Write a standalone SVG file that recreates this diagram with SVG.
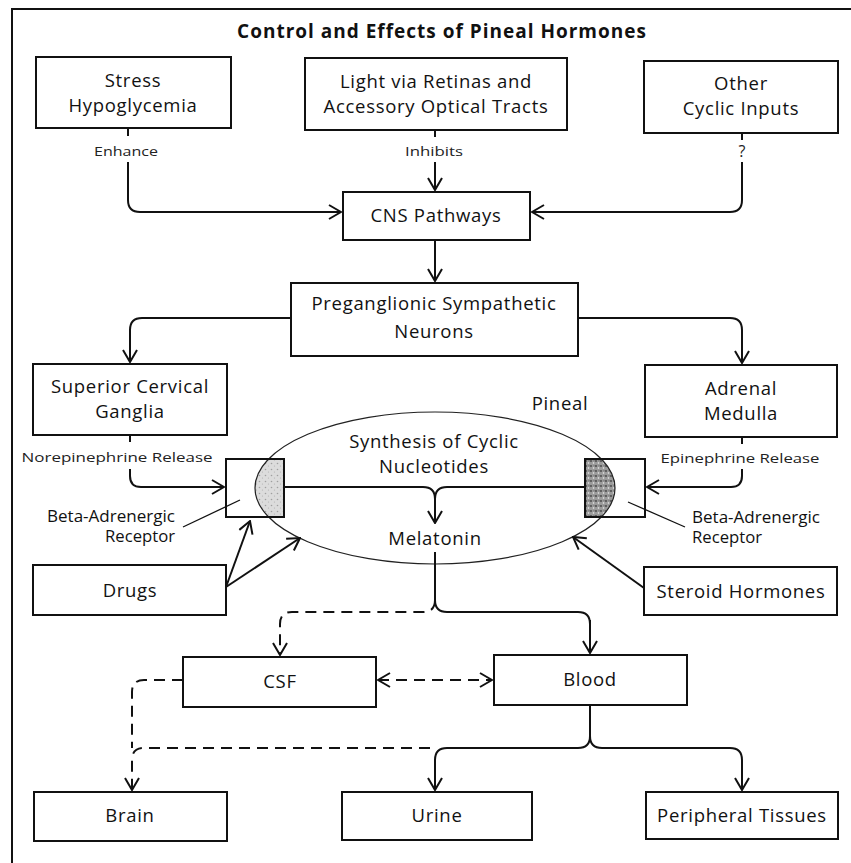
<svg xmlns="http://www.w3.org/2000/svg" width="851" height="863" viewBox="0 0 851 863">
<defs>
<style>
.box{fill:none;stroke:#111;stroke-width:2}
.t{font-family:"Open Sans","Liberation Sans",sans-serif;font-size:18.5px;letter-spacing:0.7px;fill:#111;text-anchor:middle}
.s{font-family:"Open Sans","Liberation Sans",sans-serif;font-size:13.5px;fill:#222;text-anchor:middle}
.m{font-family:"Open Sans","Liberation Sans",sans-serif;font-size:15.5px;fill:#111}
.c{fill:none;stroke:#111;stroke-width:2}
.d{fill:none;stroke:#111;stroke-width:2;stroke-dasharray:11 7}
.a{marker-end:url(#ah)}
</style>
<marker id="ah" viewBox="0 0 14 16" refX="13" refY="8" markerWidth="14" markerHeight="16" markerUnits="userSpaceOnUse" orient="auto-start-reverse">
<path d="M1,1 L13,8 L1,15" fill="none" stroke="#111" stroke-width="2"/>
</marker>
<pattern id="stipL" width="6" height="6" patternUnits="userSpaceOnUse">
<rect width="6" height="6" fill="#dcdcdc"/>
<circle cx="1.5" cy="1.5" r="0.8" fill="#a0a0a0"/>
<circle cx="4.5" cy="4" r="0.6" fill="#b0b0b0"/>
</pattern>
<pattern id="stipR" width="5" height="5" patternUnits="userSpaceOnUse">
<rect width="5" height="5" fill="#9a9a9a"/>
<circle cx="1" cy="1" r="0.9" fill="#444"/>
<circle cx="3.5" cy="3" r="0.8" fill="#eee"/>
<circle cx="4" cy="0.8" r="0.5" fill="#555"/>
</pattern>
<clipPath id="ell"><ellipse cx="435" cy="488" rx="180" ry="76"/></clipPath>
</defs>
<rect width="851" height="863" fill="#fff"/>
<g id="frame" fill="none" stroke="#111" stroke-width="2">
<path d="M12,863 V9 H851"/>
</g>
<text id="title" x="442" y="38" class="t" style="font-weight:bold;font-size:19px;letter-spacing:1px">Control and Effects of Pineal Hormones</text>

<g id="stress"><rect class="box" x="36" y="57" width="195" height="71"/><text class="t" x="133" y="87">Stress</text><text class="t" x="133" y="112">Hypoglycemia</text></g>
<g id="light"><rect class="box" x="305" y="58" width="262" height="72"/><text class="t" x="436" y="88">Light via Retinas and</text><text class="t" x="436" y="113">Accessory Optical Tracts</text></g>
<g id="other"><rect class="box" x="644" y="61" width="194" height="72"/><text class="t" x="741" y="90">Other</text><text class="t" x="741" y="115">Cyclic Inputs</text></g>
<g id="cns"><rect class="box" x="343" y="192" width="187" height="48"/><text class="t" x="436" y="222">CNS Pathways</text></g>
<g id="pregang"><rect class="box" x="291" y="283" width="287" height="73"/><text class="t" x="434" y="310">Preganglionic Sympathetic</text><text class="t" x="434" y="338">Neurons</text></g>
<g id="scg"><rect class="box" x="33" y="364" width="194" height="71"/><text class="t" x="130" y="393">Superior Cervical</text><text class="t" x="130" y="418">Ganglia</text></g>
<g id="adrenal"><rect class="box" x="645" y="365" width="192" height="72"/><text class="t" x="741" y="395">Adrenal</text><text class="t" x="741" y="420">Medulla</text></g>

<g id="pineal">
<rect x="226" y="459" width="58" height="58" fill="url(#stipL)" clip-path="url(#ell)"/>
<rect x="585" y="459" width="60" height="58" fill="url(#stipR)" clip-path="url(#ell)"/>
<ellipse cx="435" cy="488" rx="180" ry="76" fill="none" stroke="#222" stroke-width="1.2"/>
<text class="t" x="560" y="410">Pineal</text>
<text class="t" x="434" y="448">Synthesis of Cyclic</text>
<text class="t" x="434" y="473">Nucleotides</text>
<text class="t" x="435" y="545">Melatonin</text>
</g>
<g id="receptorL"><rect class="box" x="226" y="459" width="58" height="58"/></g>
<g id="receptorR"><rect class="box" x="585" y="459" width="60" height="58"/></g>
<g id="drugs"><rect class="box" x="33" y="565" width="193" height="50"/><text class="t" x="130" y="597">Drugs</text></g>
<g id="steroid"><rect class="box" x="644" y="567" width="193" height="48"/><text class="t" x="741" y="598">Steroid Hormones</text></g>
<g id="csf"><rect class="box" x="183" y="657" width="193" height="50"/><text class="t" x="280" y="688">CSF</text></g>
<g id="blood"><rect class="box" x="494" y="655" width="193" height="50"/><text class="t" x="590" y="686">Blood</text></g>
<g id="brain"><rect class="box" x="34" y="792" width="193" height="49"/><text class="t" x="130" y="822">Brain</text></g>
<g id="urine"><rect class="box" x="342" y="792" width="190" height="48"/><text class="t" x="437" y="822">Urine</text></g>
<g id="peripheral"><rect class="box" x="646" y="792" width="192" height="47"/><text class="t" x="742" y="822">Peripheral Tissues</text></g>

<g id="labels">
<text class="s" x="126" y="156" textLength="64" lengthAdjust="spacingAndGlyphs">Enhance</text>
<text class="s" x="434" y="156" textLength="58" lengthAdjust="spacingAndGlyphs">Inhibits</text>
<text class="s" x="742" y="157" style="font-size:16px">?</text>
<text class="s" x="117" y="462" textLength="191" lengthAdjust="spacingAndGlyphs">Norepinephrine Release</text>
<text class="s" x="740" y="463" textLength="159" lengthAdjust="spacingAndGlyphs">Epinephrine Release</text>
<text class="m" x="175" y="522" text-anchor="end" textLength="128" lengthAdjust="spacingAndGlyphs">Beta-Adrenergic</text>
<text class="m" x="175" y="542" text-anchor="end" textLength="70" lengthAdjust="spacingAndGlyphs">Receptor</text>
<text class="m" x="692" y="523" textLength="128" lengthAdjust="spacingAndGlyphs">Beta-Adrenergic</text>
<text class="m" x="692" y="543" textLength="70" lengthAdjust="spacingAndGlyphs">Receptor</text>
</g>

<g id="connectors">
<path class="c" d="M128,128 V136"/>
<path class="c a" d="M128,162 V200 Q128,212 140,212 H341"/>
<path class="c" d="M435,130 V137"/>
<path class="c a" d="M435,162 V190"/>
<path class="c" d="M742,133 V140"/>
<path class="c a" d="M742,162 V200 Q742,212 730,212 H532"/>
<path class="c a" d="M435,240 V281"/>
<path class="c a" d="M291,318 H142 Q130,318 130,330 V362"/>
<path class="c a" d="M578,318 H730 Q742,318 742,330 V363"/>
<path class="c" d="M130,435 V442"/>
<path class="c a" d="M130,469 V476 Q130,487 141,487 H224"/>
<path class="c" d="M742,437 V444"/>
<path class="c a" d="M742,469 V476 Q742,487 731,487 H647"/>
<path class="c a" d="M284,487 H423 Q435,487 435,499 V523"/>
<path class="c" d="M585,487 H447 Q435,487 435,499"/>
<path class="c" d="M435,552 V600 Q435,612 447,612 H578 Q590,612 590,624"/>
<path class="c a" d="M590,620 V653"/>
<path class="d a" d="M435,600 Q435,612 423,612 H292 Q280,612 280,624 V655"/>
<path class="d a" d="M378,680 H492" style="marker-start:url(#ah)"/>
<path class="d" d="M183,680 H144 Q132,680 132,692 V748"/>
<path class="d a" d="M430,748 H144 Q132,748 132,760 V790"/>
<path class="c a" d="M590,705 V736 Q590,748 578,748 H447 Q435,748 435,760 V790"/>
<path class="c a" d="M590,736 Q590,748 602,748 H730 Q742,748 742,760 V790"/>
<path class="c a" d="M226,587 L250,521"/>
<path class="c a" d="M226,587 L300,538"/>
<path class="c a" d="M644,588 L573,537"/>
<path fill="none" stroke="#111" stroke-width="1.3" d="M183,527 L240,500"/>
<path fill="none" stroke="#111" stroke-width="1.3" d="M685,527 L628,502"/>
</g>
</svg>
